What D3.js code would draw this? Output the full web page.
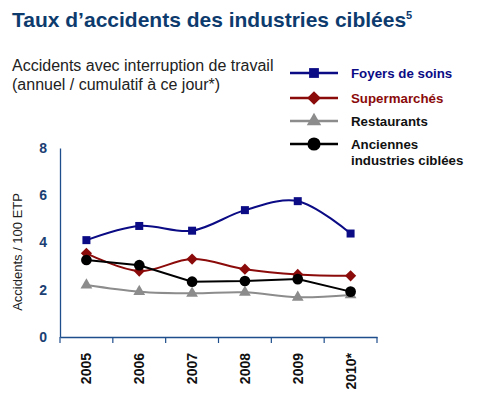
<!DOCTYPE html>
<html>
<head>
<meta charset="utf-8">
<script src="https://cdn.jsdelivr.net/npm/d3@7"></script>
<style>
  body { margin: 0; background: #fff; }
  text { font-family: Arial, "Liberation Sans", sans-serif; }
</style>
</head>
<body>
<div id="chart"></div>
<script>
const years = ['2005', '2006', '2007', '2008', '2009', '2010*'];
const foyers = [4.1, 4.7, 4.5, 5.37, 5.75, 4.38];
const supermarches = [3.54, 2.79, 3.3, 2.87, 2.65, 2.59];
const restaurants = [2.2, 1.92, 1.85, 1.89, 1.68, 1.78];
const anciennes = [3.26, 3.04, 2.34, 2.37, 2.45, 1.92];
const yTicks = [0, 2, 4, 6, 8];

const width = 490;
const height = 413;
const margin = {top: 148, right: 113, bottom: 76, left: 60};

const axisColor = '#1f4e8c';
const labelColor = '#1b3f73';

const series = [
    {name: ['Foyers de soins'], values: foyers, color: '#0b0b85', text: '#0b0b85', symbol: d3.symbolSquare, size: 64, curve: d3.curveCatmullRom},
    {name: ['Supermarchés'], values: supermarches, color: '#8b0a0a', text: '#8b0a0a', symbol: d3.symbolDiamond2, size: 80, curve: d3.curveCatmullRom},
    {name: ['Restaurants'], values: restaurants, color: '#8c8c8c', text: '#111', symbol: d3.symbolTriangle, size: 60, curve: d3.curveCatmullRom},
    {name: ['Anciennes', 'industries ciblées'], values: anciennes, color: '#000', text: '#111', symbol: d3.symbolCircle, size: 90, curve: d3.curveLinear}
];

const svg = d3.select('#chart')
    .append('svg')
        .attr('width', width)
        .attr('height', height);

// titles
svg.append('text')
    .attr('x', 12)
    .attr('y', 27)
    .attr('fill', '#0d3b6e')
    .attr('font-size', '21px')
    .attr('font-weight', 'bold')
    .text('Taux d’accidents des industries ciblées')
    .append('tspan')
        .attr('font-size', '11px')
        .attr('dy', -8)
        .text('5');

svg.append('text')
    .attr('x', 12)
    .attr('y', 71)
    .attr('fill', '#222')
    .attr('font-size', '16px')
    .text('Accidents avec interruption de travail');

svg.append('text')
    .attr('x', 12)
    .attr('y', 90)
    .attr('fill', '#222')
    .attr('font-size', '16px')
    .text('(annuel / cumulatif à ce jour*)');

const x = d3.scaleBand()
    .domain(years)
    .range([margin.left, width - margin.right]);

const y = d3.scaleLinear()
    .domain([0, 8])
    .range([height - margin.bottom, margin.top]);

// y axis
const yAxis = svg.append('g')
    .attr('transform', `translate(${margin.left}, 0)`)
    .call(d3.axisLeft(y).tickValues(yTicks).tickSize(0).tickPadding(13));
yAxis.select('.domain').attr('stroke', axisColor).attr('stroke-width', 1.3);
yAxis.selectAll('text')
    .attr('fill', labelColor)
    .attr('font-size', '14px')
    .attr('font-weight', 'bold')
    .attr('font-family', 'Arial, "Liberation Sans", sans-serif');

// x axis
const xAxis = svg.append('g')
    .attr('transform', `translate(0, ${height - margin.bottom})`)
    .call(d3.axisBottom(x).tickSize(0).tickFormat(''));
xAxis.select('.domain').attr('stroke', axisColor).attr('stroke-width', 1.3);

const edges = years.map(d => x(d)).concat([x.range()[1]]);
svg.append('g')
    .selectAll('line')
    .data(edges)
    .join('line')
        .attr('x1', d => d)
        .attr('x2', d => d)
        .attr('y1', height - margin.bottom)
        .attr('y2', height - margin.bottom + 6)
        .attr('stroke', axisColor)
        .attr('stroke-width', 1.2);

svg.append('g')
    .selectAll('text')
    .data(years)
    .join('text')
        .attr('transform', d => `translate(${x(d) + x.bandwidth() / 2 + 5}, ${height - margin.bottom + 16}) rotate(-90)`)
        .attr('text-anchor', 'end')
        .attr('font-size', '14px')
        .attr('font-weight', 'bold')
        .attr('fill', '#111')
        .text(d => d);

svg.append('text')
    .attr('transform', `translate(22, ${y(3.6)}) rotate(-90)`)
    .attr('text-anchor', 'middle')
    .attr('font-size', '13px')
    .attr('fill', '#222')
    .text('Accidents / 100 ETP');

// lines
const px = (d, i) => x(years[i]) + x.bandwidth() / 2;

series.forEach(s => {
    const line = d3.line()
        .x(px)
        .y(d => y(d))
        .curve(s.curve);

    svg.append('path')
        .datum(s.values)
        .attr('fill', 'none')
        .attr('stroke', s.color)
        .attr('stroke-width', 2)
        .attr('d', line);
});

series.forEach(s => {
    svg.append('g')
        .selectAll('path')
        .data(s.values)
        .join('path')
            .attr('transform', (d, i) => `translate(${px(d, i)}, ${y(d)})`)
            .attr('d', d3.symbol().type(s.symbol).size(s.size))
            .attr('fill', s.color);
});

// legend
const legendY = [73, 98, 121, 144];
const legend = svg.append('g')
    .selectAll('g')
    .data(series)
    .join('g')
        .attr('transform', (d, i) => `translate(290, ${legendY[i]})`);

legend.append('line')
    .attr('x1', 0)
    .attr('x2', 48)
    .attr('stroke', d => d.color)
    .attr('stroke-width', 2.5);

legend.append('path')
    .attr('transform', 'translate(24, 0)')
    .attr('d', d => d3.symbol().type(d.symbol).size(d.size * 1.5)())
    .attr('fill', d => d.color);

legend.append('text')
    .attr('x', 61)
    .attr('y', 5)
    .attr('font-size', '13.3px')
    .attr('font-weight', 'bold')
    .attr('fill', d => d.text)
    .selectAll('tspan')
    .data(d => d.name)
    .join('tspan')
        .attr('x', 61)
        .attr('dy', (d, i) => i === 0 ? 0 : 16)
        .text(d => d);
</script>
</body>
</html>
